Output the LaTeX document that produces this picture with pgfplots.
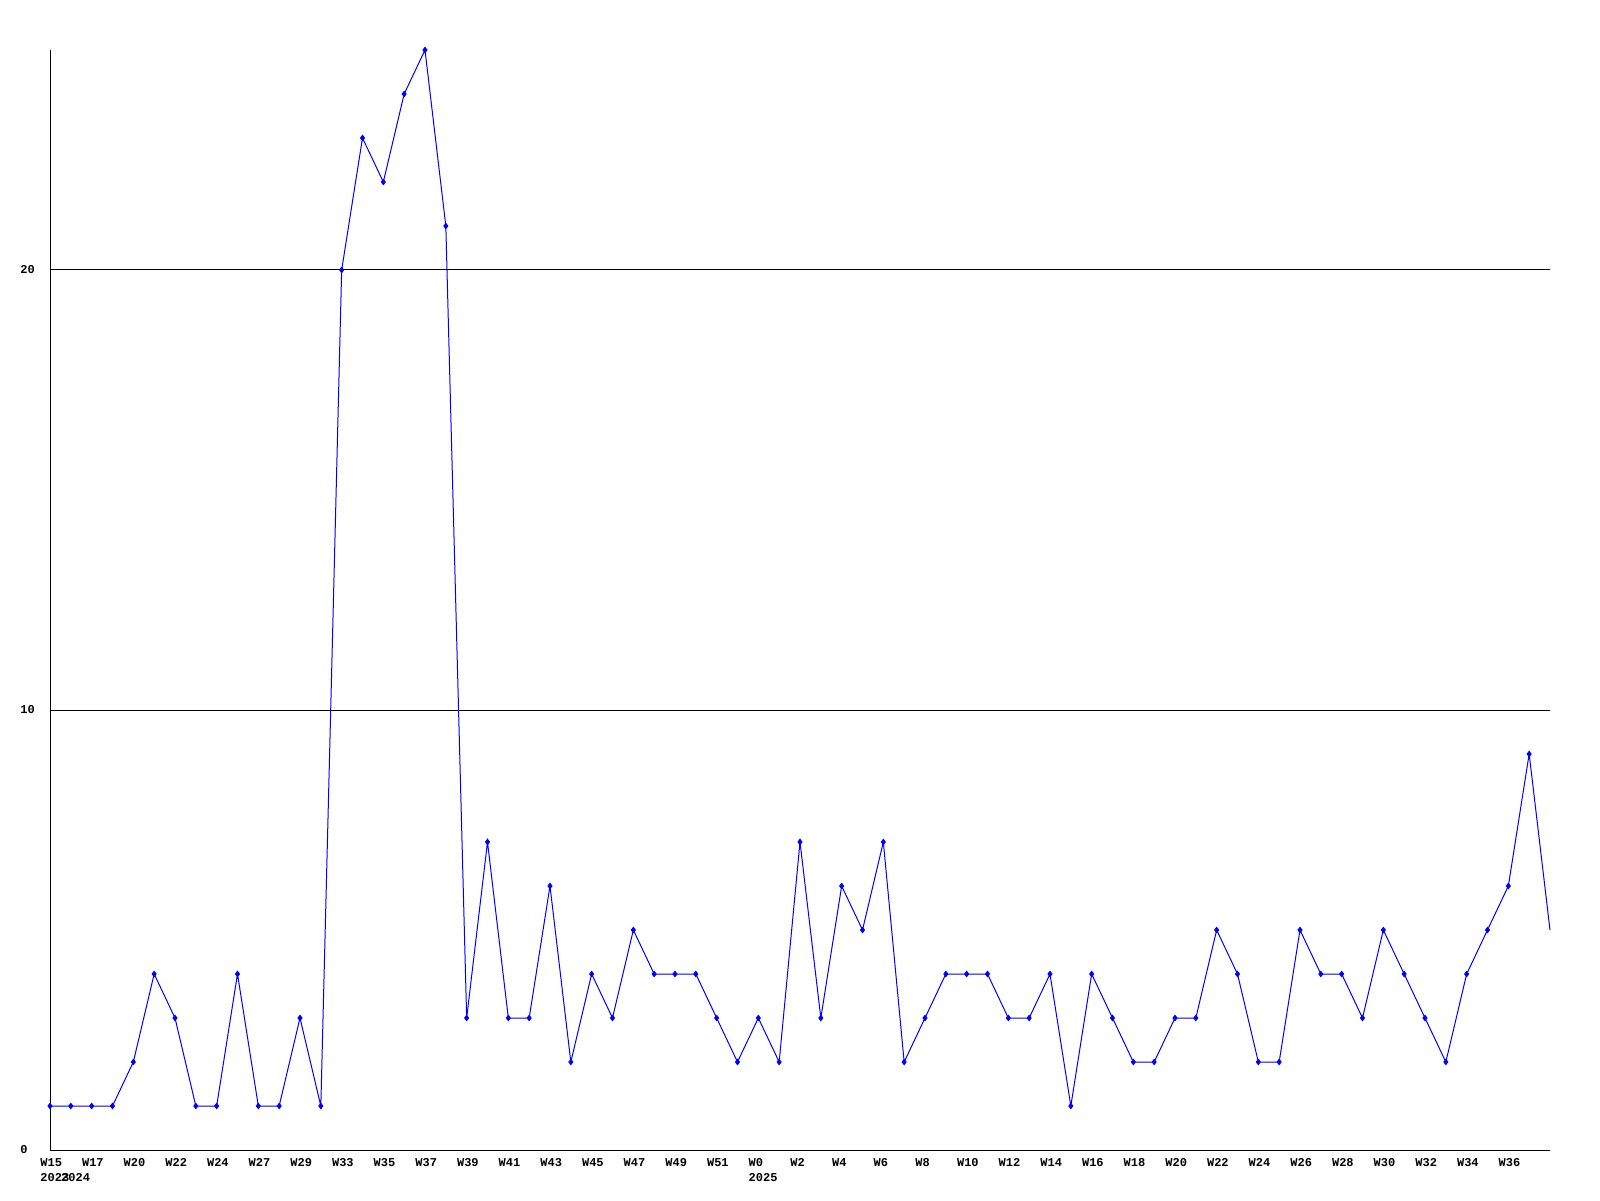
\documentclass[border=0pt]{standalone}
\usepackage{fontspec}
\setmonofont{Liberation Mono}
\usepackage{pgfplots}
\pgfplotsset{compat=1.18}
\begin{document}
\begin{tikzpicture}
\begin{axis}[
  at={(25pt,25pt)}, anchor=south west,
  scale only axis, width=750pt, height=550pt,
  xmin=0, xmax=72, ymin=0, ymax=25,
  axis x line*=bottom, axis y line*=left,
  axis line style={-, black, line width=0.5pt},
  major tick length=0pt,
  ytick={0,10,20}, yticklabels={0,10,20},
  ymajorgrids, grid style={black, line width=0.5pt},
  xtick={0,2,...,70},
  xticklabels={{W15\\2023},W17,W20,W22,W24,W27,W29,W33,W35,W37,W39,W41,W43,W45,W47,W49,W51,{W0\\2025},W2,W4,W6,W8,W10,W12,W14,W16,W18,W20,W22,W24,W26,W28,W30,W32,W34,W36},
  extra x ticks={1}, extra x tick labels={{\phantom{W}\\2024}},
  extra x tick style={grid=none, major tick length=0pt},
  ticklabel style={font=\ttfamily\bfseries\fontsize{6}{7.5}\selectfont},
  xticklabel style={anchor=north west, xshift=-5pt, yshift=-4pt, inner sep=0pt, align=left},
  yticklabel style={anchor=west, xshift=-15pt, inner sep=0pt},
  clip=false,
]
\addplot[color={rgb,255:red,0;green,0;blue,255}, line width=0.5pt, mark=diamond*, mark size=1.3pt, mark indices={1,...,72}] coordinates {
(0,1)(1,1)(2,1)(3,1)(4,2)(5,4)(6,3)(7,1)(8,1)(9,4)(10,1)(11,1)(12,3)(13,1)
(14,20)(15,23)(16,22)(17,24)(18,25)(19,21)(20,3)(21,7)(22,3)(23,3)(24,6)(25,2)
(26,4)(27,3)(28,5)(29,4)(30,4)(31,4)(32,3)(33,2)(34,3)(35,2)(36,7)(37,3)(38,6)
(39,5)(40,7)(41,2)(42,3)(43,4)(44,4)(45,4)(46,3)(47,3)(48,4)(49,1)(50,4)(51,3)
(52,2)(53,2)(54,3)(55,3)(56,5)(57,4)(58,2)(59,2)(60,5)(61,4)(62,4)(63,3)(64,5)
(65,4)(66,3)(67,2)(68,4)(69,5)(70,6)(71,9)(72,5)
};
\end{axis}
\pgfresetboundingbox
\path (0,0) rectangle (800pt,600pt);
\end{tikzpicture}
\end{document}
